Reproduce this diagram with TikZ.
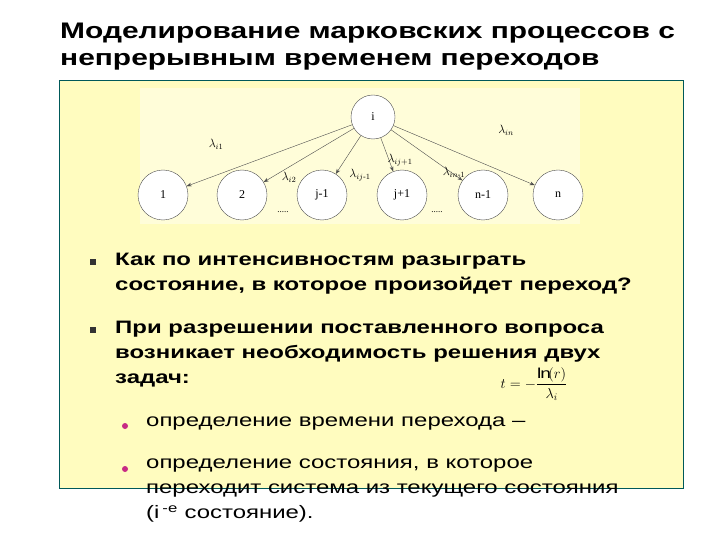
\documentclass[tikz,border=0pt]{standalone}
\usepackage{amsmath}
\usepackage{fontspec}
\setmainfont{Liberation Sans}[FakeStretch=1.33]
\newfontfamily\ser{Liberation Serif}
\usetikzlibrary{arrows.meta}
\begin{document}
\begin{tikzpicture}[x=1pt,y=-1pt,
  st/.style={circle,draw=black!70,fill=white,minimum size=50pt,inner sep=0pt,font=\ser\large},
  ar/.style={draw=black!70,-{Stealth[length=5pt]}},
  lb/.style={font=\ser\large,inner sep=1pt},
  txt/.style={anchor=north west,align=left,inner sep=0pt,font=\fontsize{18}{25}\selectfont},
  sq/.style={fill=black!80,minimum size=6pt,inner sep=0pt},
  dot/.style={circle,fill=magenta!80!black,minimum size=6pt,inner sep=0pt}]
\useasboundingbox (0,0) rectangle (720,540);
\fill[white] (0,0) rectangle (720,540);
\node[anchor=north west,align=left,inner sep=0pt,font=\bfseries\fontsize{22.5}{27}\selectfont] (title) at (60,23) {Моделирование марковских процессов с\\непрерывным временем переходов};
\draw[draw=teal!70!black,fill=yellow!25] (59,80) rectangle (683,488);
\fill[white!85!yellow] (140,88) rectangle (580,224);
\node[st,minimum size=44pt] (i) at (373,117) {i};
\node[st] (n1) at (163,195) {1};
\node[st] (n2) at (242,195) {2};
\node[st] (nj1) at (322,195) {j-1};
\node[st] (nj2) at (402,195) {j+1};
\node[st] (nn1) at (483,195) {n-1};
\node[st] (nn) at (558,195) {n};
\foreach \t in {n1,n2,nj1,nj2,nn1,nn} \draw[ar] (i) -- (\t);
\node[lb] (l1) at (216,144) {$\lambda_{i1}$};
\node[lb] (l2) at (289,177) {$\lambda_{i2}$};
\node[lb] (l3) at (360,175) {$\lambda_{ij\text{-}1}$};
\node[lb] (l4) at (400,160) {$\lambda_{ij+1}$};
\node[lb] (l5) at (454,172) {$\lambda_{in\text{-}1}$};
\node[lb] (l6) at (506,130) {$\lambda_{in}$};
\node[lb] (d1) at (283,212) {\small .....};
\node[lb] (d2) at (437,212) {\small .....};
\node[sq] (b1) at (93,262) {};
\node[txt] (t1) at (115,253) {\bfseries Как по интенсивностям разыграть\\\bfseries состояние, в которое произойдет переход?};
\node[sq] (b2) at (93,330) {};
\node[txt] (t2) at (115,321) {\bfseries При разрешении поставленного вопроса\\\bfseries возникает необходимость решения двух\\\bfseries задач:};
\node[dot] (b3) at (125,426) {};
\node[txt] (t3) at (146,417) {определение времени перехода –};
\node[dot] (b4) at (125,469) {};
\node[txt] (t4) at (146,459) {определение состояния, в которое\\переходит система из текущего состояния\\(i\,\textsuperscript{-е} состояние).};
\node[font=\Large] (f) at (534,384) {$t=-\dfrac{\ln(r)}{\lambda_i}$};
\end{tikzpicture}
\end{document}
